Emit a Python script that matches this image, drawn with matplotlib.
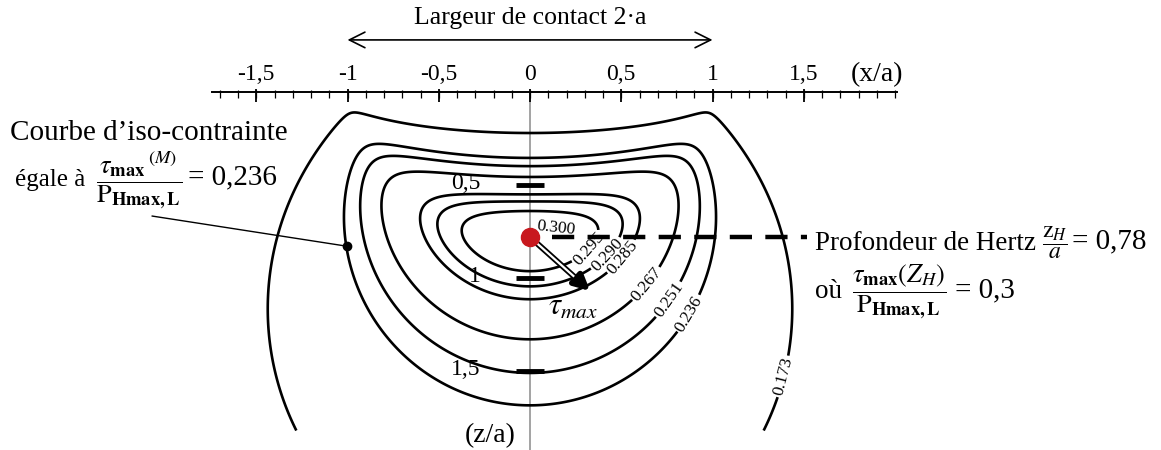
import numpy as np
import matplotlib.pyplot as plt

plt.rcParams['font.family'] = ['Liberation Serif', 'DejaVu Serif']
plt.rcParams['mathtext.fontset'] = 'stix'

# iso-levels of tau_max / P_Hmax,L
levels = [0.173, 0.236, 0.251, 0.267, 0.285, 0.290, 0.295]
tau_peak = 0.300
z_hertz = 0.78
iso_value = 0.236

x_major = [-1.5, -1, -0.5, 0, 0.5, 1, 1.5]
x_major_labels = ['-1,5', '-1', '-0,5', '0', '0,5', '1', '1,5']
z_major = [0.5, 1, 1.5]
z_major_labels = ['0,5', '1', '1,5']

# Hertz line contact, subsurface stresses (McEwen), a = 1, p0 = 1
xg = np.linspace(-2.3, 2.7, 1000)
zg = np.linspace(0.002, 1.82, 700)
X, Z = np.meshgrid(xg, zg)
A = 1 - X**2 + Z**2
R = np.sqrt(A**2 + 4 * X**2 * Z**2)
M = np.sqrt(0.5 * (R + A))
N = np.sign(X) * np.sqrt(np.maximum(0.5 * (R - A), 0))
D = M**2 + N**2
sx = -(M * (1 + (Z**2 + N**2) / D) - 2 * Z)
sz = -M * (1 - (Z**2 + N**2) / D)
txz = N * (M**2 - Z**2) / D
tau = np.sqrt(((sx - sz) / 2)**2 + txz**2)

W, H = 1161, 450
x0, kx = 530, 182.5
z0, kz = 92, 186

fig = plt.figure(figsize=(W / 100, H / 100), dpi=100)
ax = fig.add_axes([0, 0, 1, 1])
ax.set_xlim(-x0 / kx, (W - x0) / kx)
ax.set_ylim((H - z0) / kz, -z0 / kz)
ax.axis('off')

cs = ax.contour(X, Z, tau, levels=levels, colors='k', linewidths=1.9)
lab_pos = [(1.39, 1.53), (0.92, 1.22), (0.78, 1.13), (0.66, 1.05),
           (0.58, 0.95), (0.44, 0.89), (0.30, 0.82)]
ax.clabel(cs, fmt='%.3f', fontsize=12.5, inline=True, inline_spacing=2,
          manual=lab_pos)

# top x/a axis
ax.plot([-1.74, 2.01], [0, 0], color='k', lw=1.4)
minor = np.arange(-17, 21) / 10
ax.vlines(minor, -0.012, 0.03, color='k', lw=0.9)
ax.vlines(x_major, -0.015, 0.055, color='k', lw=1.3)
for v, s in zip(x_major, x_major_labels):
    ax.text(v, -0.095, s, ha='center', va='center', fontsize=17)
ax.text(1.76, -0.095, '(x/a)', ha='left', va='center', fontsize=20)

ax.annotate('', xy=(-1, -0.28), xytext=(1, -0.28),
            arrowprops=dict(arrowstyle='<->', lw=1.2, mutation_scale=28,
                            shrinkA=0, shrinkB=0))
ax.text(0, -0.40, 'Largeur de contact 2·a', ha='center', va='center',
        fontsize=18.5)

# z/a axis
ax.plot([0, 0], [0, 2.0], color='#8a8a8a', lw=1.1, zorder=1)
ax.hlines(z_major, -0.075, 0.075, color='k', lw=3.5, zorder=4)
for v, s in zip(z_major, z_major_labels):
    ax.text(-0.27, v - 0.01, s, ha='right', va='center', fontsize=17)
ax.text(-0.22, 1.845, '(z/a)', ha='center', va='center', fontsize=20)

# Hertz depth
ax.plot([0.12, 1.52], [z_hertz, z_hertz], color='k', lw=3.2,
        ls=(0, (5, 3)), solid_capstyle='butt')
ax.plot(0, z_hertz, 'o', ms=13, color='#c8181e', zorder=6)
ax.text(0.03, z_hertz - 0.05, '%.3f' % tau_peak, fontsize=12.5,
        rotation=-6, ha='left', va='center', zorder=7)

tip = np.array([0.33, z_hertz + 0.29])
base = np.array([0.0, z_hertz])
ax.annotate('', xy=tip, xytext=base,
            arrowprops=dict(arrowstyle='-|>,head_length=0.9,head_width=0.45',
                            lw=4.2, color='k', shrinkA=0, shrinkB=0),
            zorder=5)
seg = base + np.outer([0.12, 0.72], tip - base)
ax.plot(seg[:, 0], seg[:, 1], color='w', lw=1.6, zorder=5.5)
ax.text(0.1, 1.16, r'$\tau_{max}$', fontsize=22, ha='left', va='center')

# leader to the iso-curve, hitting it on the left flank
row = np.argmin(np.abs(zg - 0.83))
col = np.argmax(tau[row] >= iso_value)
px_iso, pz_iso = xg[col], zg[row]
ax.plot([-2.07, px_iso], [0.667, pz_iso], color='k', lw=1.0)
ax.plot(px_iso, pz_iso, 'o', ms=6, color='k')

tau_frac = r'$\dfrac{\tau_{\mathbf{max}}\,^{(M)}}{\mathrm{P}_{\mathbf{Hmax,L}}}$'
fig.text(10 / W, 1 - 133 / H, 'Courbe d’iso-contrainte', fontsize=21,
         ha='left', va='center')
fig.text(15 / W, 1 - 180 / H, 'égale à', fontsize=18, ha='left', va='center')
fig.text(96 / W, 1 - 180 / H, tau_frac, fontsize=19, ha='left', va='center')
fig.text(188 / W, 1 - 177 / H, '= 0,236', fontsize=21, ha='left', va='center')

fig.text(815 / W, 1 - 243 / H, 'Profondeur de Hertz', fontsize=19.5,
         ha='left', va='center')
fig.text(1042 / W, 1 - 243 / H, r'$\dfrac{\mathrm{z}_{H}}{a}$', fontsize=17,
         ha='left', va='center')
fig.text(1072 / W, 1 - 241 / H, '= 0,78', fontsize=21, ha='left', va='center')
fig.text(815 / W, 1 - 292 / H, 'où', fontsize=19.5, ha='left', va='center')
fig.text(852 / W, 1 - 292 / H,
         r'$\dfrac{\tau_{\mathbf{max}}(Z_H)}{\mathrm{P}_{\mathbf{Hmax,L}}}$',
         fontsize=19, ha='left', va='center')
fig.text(955 / W, 1 - 290 / H, '= 0,3', fontsize=21, ha='left', va='center')

fig.savefig('out.png', dpi=100)
